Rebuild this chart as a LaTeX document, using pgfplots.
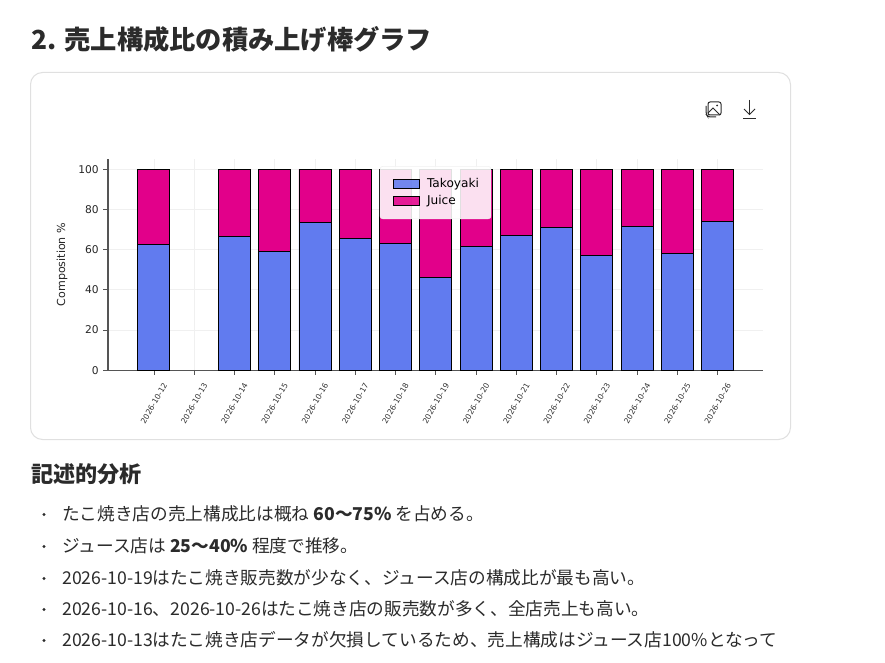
\documentclass[border=0pt]{standalone}
\usepackage{pgfplots}
\pgfplotsset{compat=1.18}
\usepackage{fontspec}
\setmainfont{DejaVu Sans}
\newfontfamily\jp{Noto Sans CJK JP}
\definecolor{tako}{HTML}{617BEF}
\definecolor{juice}{HTML}{E2008A}
\definecolor{txt}{HTML}{2B2B2B}
\definecolor{spine}{HTML}{555555}
\begin{document}
\begin{tikzpicture}[x=0.75pt,y=0.75pt]
\clip (0,0) rectangle (885,662);
\fill[white] (0,0) rectangle (885,662);
\draw[color=black!12,line width=0.75pt,rounded corners=9pt] (30.5,662-72.5) rectangle (790.5,662-439.5);
\node[anchor=base west,inner sep=0,text=txt,font=\jp\bfseries\fontsize{19.7}{24}\selectfont] at (31,662-50) {2. 売上構成比の積み上げ棒グラフ};
\node[anchor=base west,inner sep=0,text=txt,font=\jp\bfseries\fontsize{16.6}{20}\selectfont] at (31,662-482) {記述的分析};
\foreach \y/\t in {520/{たこ焼き店の売上構成比は概ね \textbf{60〜75\%} を占める。},
 552/{ジュース店は \textbf{25〜40\%} 程度で推移。},
 584/{2026-10-19はたこ焼き販売数が少なく、ジュース店の構成比が最も高い。},
 615/{2026-10-16、2026-10-26はたこ焼き店の販売数が多く、全店売上も高い。},
 646/{2026-10-13はたこ焼き店データが欠損しているため、売上構成はジュース店100\%となって}}{
  \fill[txt] (44,662-\y+5.5) circle (1.6);
  \node[anchor=base west,inner sep=0,text=txt,font=\jp\fontsize{13.25}{16}\selectfont] at (62,662-\y) {\t};
}
% icons
\begin{scope}[line width=0.75pt,color=txt,rounded corners=1.5pt]
\draw (708,662-115) rectangle (721,662-102);
\draw (706,662-106) -- (706,662-114) -- (708,662-117) -- (716,662-117);
\draw[rounded corners=0pt] (708,662-113) -- (713,662-108) -- (720,662-115);
\fill[txt] (717,662-105.5) circle (1);
\end{scope}
\begin{scope}[line width=0.75pt,color=txt]
\draw (749.5,662-100) -- (749.5,662-114);
\draw (744,662-109) -- (749.5,662-114.5) -- (755,662-109);
\draw (743,662-118.5) -- (756,662-118.5);
\end{scope}
\begin{axis}[
  at={(81pt,218.9pt)},anchor=south west,
  scale only axis,width=491.25pt,height=158.25pt,
  xmin=-1.14,xmax=15.125,ymin=0,ymax=105,
  axis lines=left,axis line style={-,color=spine,line width=0.8pt},
  ybar stacked,bar width=24pt,
  xtick={0,...,14},
  xticklabels={2026-10-12,2026-10-13,2026-10-14,2026-10-15,2026-10-16,2026-10-17,2026-10-18,2026-10-19,2026-10-20,2026-10-21,2026-10-22,2026-10-23,2026-10-24,2026-10-25,2026-10-26},
  ytick={0,20,...,100},
  /pgf/number format/assume math mode=true,
  tick style={color=spine,line width=0.6pt},
  tick align=outside,major tick length=3.5pt,
  xticklabel style={yshift=-21.5pt,rotate=60,anchor=center,font=\fontsize{5.8}{7}\selectfont,text=black!80},
  yticklabel style={font=\fontsize{8}{10}\selectfont,text=black!85},
  grid=major,grid style={color=black!6,line width=0.6pt},
  ylabel={Composition \%},
  ylabel style={font=\fontsize{8.3}{10}\selectfont,text=black!85,at={(axis description cs:-0.07,0.5)},anchor=center},
  legend cell align=left,
  legend style={at={(0.415,0.967)},anchor=north west,fill=white,fill opacity=0.88,text opacity=1,draw=black!6,rounded corners=2pt,font=\fontsize{9.1}{12}\selectfont,inner xsep=7pt,inner ysep=7pt,row sep=0.5pt},
  legend image code/.code={\path (0,0); \draw[#1,draw=black,line width=0.6pt,sharp corners] (3pt,-0.115cm) rectangle (0.66cm+3pt,0.115cm); \path (0.66cm+6.75pt,0);},
  clip=false,
]
\addplot[fill=tako,draw=black,line width=0.7pt] coordinates {(0,62.5)(2,66.6)(3,59)(4,73.6)(5,65.3)(6,62.8)(7,45.9)(8,61.4)(9,67.2)(10,71)(11,57.1)(12,71.5)(13,58.1)(14,74)};
\addplot[fill=juice,draw=black,line width=0.7pt] coordinates {(0,37.5)(2,33.4)(3,41)(4,26.4)(5,34.7)(6,37.2)(7,54.1)(8,38.6)(9,32.8)(10,29)(11,42.9)(12,28.5)(13,41.9)(14,26)};
\legend{Takoyaki,Juice}
\end{axis}
\end{tikzpicture}
\end{document}
